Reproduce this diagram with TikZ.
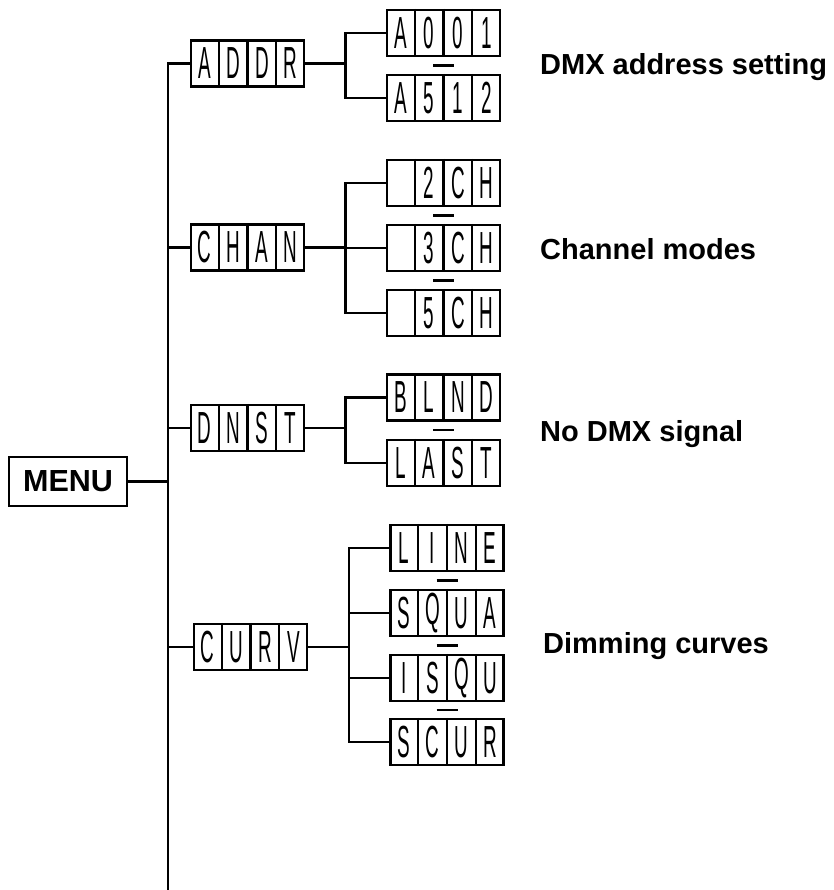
\documentclass[tikz,border=0pt]{standalone}
\usepackage{fontspec}
\setmainfont{Liberation Sans}
\newfontfamily\segfont[FakeStretch=0.42]{Liberation Sans}
\usetikzlibrary{calc}
\tikzset{
  treeline/.style={line width=2.2pt, black},
  dispbox/.style={draw, line width=2.2pt, rectangle, minimum width=113pt, minimum height=46pt, inner sep=0pt},
  segchar/.style={inner sep=0pt, font=\segfont\fontsize{45}{45}\selectfont},
  lbltext/.style={inner sep=0pt, anchor=base west, font=\bfseries\fontsize{29}{29}\selectfont},
  menubox/.style={draw, line width=2.2pt, rectangle, minimum width=118pt, minimum height=49pt, inner sep=0pt, font=\bfseries\fontsize{30.5}{30.5}\selectfont}
}
\newcommand\dispunit[7]{%
  \node[dispbox] (#1) at (#2,#3) {};
  \foreach \k in {1,2,3}
    \draw[treeline] ($(#1.north west)!\k/4!(#1.north east)$) -- ($(#1.south west)!\k/4!(#1.south east)$);
  \node[segchar] (#1-1) at ($(#1.west)!0.125!(#1.east)$) {#4};
  \node[segchar] (#1-2) at ($(#1.west)!0.375!(#1.east)$) {#5};
  \node[segchar] (#1-3) at ($(#1.west)!0.625!(#1.east)$) {#6};
  \node[segchar] (#1-4) at ($(#1.west)!0.875!(#1.east)$) {#7};
}
\newcommand\sepdash[2]{%
  \draw[treeline] ($(#1.south)!.5!(#2.north)+(-10.5,0)$) -- ($(#1.south)!.5!(#2.north)+(10.5,0)$);
}
\begin{document}
\begin{tikzpicture}[x=1pt,y=-1pt]
\useasboundingbox (0,0) rectangle (833,890);

% menu
\node[menubox] (menu) at (68,481.5) {MENU};
\coordinate (bot) at (168,892);

% first level
\dispunit{addr}{247.5}{63.5}{A}{D}{D}{R}
\dispunit{chan}{247.5}{247.5}{C}{H}{A}{N}
\dispunit{dnst}{247.5}{428}{D}{N}{S}{T}
\dispunit{curv}{250.5}{647}{C}{U}{R}{V}

\draw[treeline] (bot) |- (addr.west);
\draw[treeline] (menu.east) -- (menu.east -| bot);
\draw[treeline] (chan.west -| bot) -- (chan.west);
\draw[treeline] (dnst.west -| bot) -- (dnst.west);
\draw[treeline] (curv.west -| bot) -- (curv.west);

% ADDR branch
\dispunit{a001}{443.5}{33}{A}{0}{0}{1}
\dispunit{a512}{443.5}{98}{A}{5}{1}{2}
\coordinate (b1) at (345.5,63.5);
\draw[treeline] (addr.east) -- (b1);
\draw[treeline] (a001.west) -| (b1) |- (a512.west);
\sepdash{a001}{a512}

% CHAN branch
\dispunit{ch2}{443.5}{183}{}{2}{C}{H}
\dispunit{ch3}{443.5}{248}{}{3}{C}{H}
\dispunit{ch5}{443.5}{313}{}{5}{C}{H}
\coordinate (b2) at (345.5,247.5);
\draw[treeline] (chan.east) -- (b2);
\draw[treeline] (ch2.west) -| (b2) |- (ch5.west);
\draw[treeline] (ch3.west -| b2) -- (ch3.west);
\sepdash{ch2}{ch3}
\sepdash{ch3}{ch5}

% DNST branch
\dispunit{blnd}{443.5}{397.5}{B}{L}{N}{D}
\dispunit{last}{443.5}{463}{L}{A}{S}{T}
\coordinate (b3) at (345.5,428);
\draw[treeline] (dnst.east) -- (b3);
\draw[treeline] (blnd.west) -| (b3) |- (last.west);
\sepdash{blnd}{last}

% CURV branch
\dispunit{line}{447}{548}{L}{I}{N}{E}
\dispunit{squa}{447}{613}{S}{Q}{U}{A}
\dispunit{isqu}{447}{678}{I}{S}{Q}{U}
\dispunit{scur}{447}{742}{S}{C}{U}{R}
\coordinate (b4) at (349,647);
\draw[treeline] (curv.east) -- (b4);
\draw[treeline] (line.west) -| (b4) |- (scur.west);
\draw[treeline] (squa.west -| b4) -- (squa.west);
\draw[treeline] (isqu.west -| b4) -- (isqu.west);
\sepdash{line}{squa}
\sepdash{squa}{isqu}
\sepdash{isqu}{scur}

% labels
\node[lbltext] (t1) at (540,75) {DMX address setting};
\node[lbltext] (t2) at (540,259) {Channel modes};
\node[lbltext] (t3) at (540,441) {No DMX signal};
\node[lbltext] (t4) at (543,653) {Dimming curves};
\end{tikzpicture}
\end{document}
